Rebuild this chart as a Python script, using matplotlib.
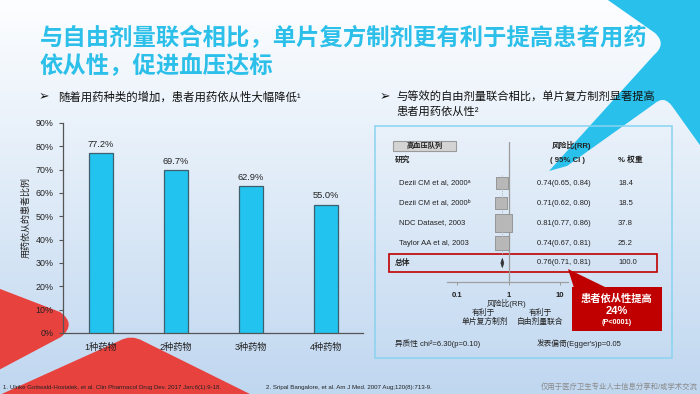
import numpy as np
import matplotlib
matplotlib.use("Agg")
import matplotlib.pyplot as plt
from matplotlib.path import Path
from matplotlib.patches import PathPatch, Rectangle, Polygon

plt.rcParams['font.family'] = ['Liberation Sans', 'Noto Sans CJK SC', 'DejaVu Sans']

# ---------------- data ----------------
title_lines = ["与自由剂量联合相比，单片复方制剂更有利于提高患者用药", "依从性，促进血压达标"]
bullet1 = "随着用药种类的增加，患者用药依从性大幅降低¹"
bullet2 = ["与等效的自由剂量联合相比，单片复方制剂显著提高", "患者用药依从性²"]

categories = ["1种药物", "2种药物", "3种药物", "4种药物"]
adherence = [77.2, 69.7, 62.9, 55.0]
y_ticks = [0, 10, 20, 30, 40, 50, 60, 70, 80, 90]
y_label = "用药依从的患者比例"

studies = ["Dezii CM et al, 2000ᵃ", "Dezii CM et al, 2000ᵇ", "NDC Dataset, 2003", "Taylor AA et al, 2003"]
rr = [0.74, 0.71, 0.81, 0.74]
rr_lo = [0.65, 0.62, 0.77, 0.67]
rr_hi = [0.84, 0.80, 0.86, 0.81]
weights = [18.4, 18.5, 37.8, 25.2]
total_label = "总体"
total_rr, total_lo, total_hi, total_w = 0.76, 0.71, 0.81, 100.0
forest_ticks = [0.1, 1, 10]
forest_ticklabels = ["0.1", "1", "10"]

footnote1 = "1. Ulrike Gottwald-Hostalek, et al. Clin Pharmacol Drug Dev. 2017 Jan;6(1):9-18."
footnote2 = "2. Sripal Bangalore, et al. Am J Med. 2007 Aug;120(8):713-9."
disclaimer = "仅用于医疗卫生专业人士信息分享和/或学术交流"

# ---------------- colours ----------------
CYAN = "#29c1ec"
TITLE = "#2bbfea"
RED = "#e8423f"
DARKRED = "#c00000"
BAR = "#22c3ee"
BAR_EDGE = "#3d5f6e"

fig = plt.figure(figsize=(7.0, 3.94), dpi=100)

# background axes in pixel coordinates
bg = fig.add_axes([0, 0, 1, 1])
bg.set_xlim(0, 700)
bg.set_ylim(394, 0)
bg.axis("off")

t = np.linspace(0, 1, 256)[:, None]
top = np.array([253, 254, 255]) / 255.0
bot = np.array([192, 215, 240]) / 255.0
grad = top[None, None, :] * (1 - t[:, :, None]) + bot[None, None, :] * t[:, :, None]
bg.imshow(grad, extent=[0, 700, 394, 0], aspect="auto", zorder=0)

M, L, C, Z = Path.MOVETO, Path.LINETO, Path.CURVE3, Path.CLOSEPOLY
# top-right cyan decoration
cyan_v = [(605, -2), (702, -2), (702, 148), (672, 106), (664, 95), (654, 104),
          (567, 166), (549, 171), (654, 55), (667, 44), (655, 33), (605, -2), (605, -2)]
cyan_c = [M, L, L, L, C, C, L, L, L, C, C, L, Z]
bg.add_patch(PathPatch(Path(cyan_v, cyan_c), facecolor=CYAN, edgecolor="none", zorder=1))

# bottom-left red decorations
r1_v = [(-5, 287), (60, 312), (77, 324), (61, 337), (-5, 372), (-5, 287)]
r1_c = [M, L, C, C, L, Z]
bg.add_patch(PathPatch(Path(r1_v, r1_c), facecolor=RED, edgecolor="none", zorder=1))
r2_v = [(-5, 397), (119, 341), (131, 334), (143, 341), (256, 397), (-5, 397)]
r2_c = [M, L, C, C, L, Z]
bg.add_patch(PathPatch(Path(r2_v, r2_c), facecolor=RED, edgecolor="none", zorder=1))

# title
bg.text(40, 39, title_lines[0], fontsize=16.8, fontweight="bold", color=TITLE, va="center", ha="left", zorder=5)
bg.text(40, 67, title_lines[1], fontsize=16.8, fontweight="bold", color=TITLE, va="center", ha="left", zorder=5)

# bullets
arrow_fam = ["DejaVu Sans"]
bg.text(39, 97, "➢", fontsize=9, family=arrow_fam, va="center", ha="left", color="#111", zorder=5)
bg.text(58, 97, bullet1, fontsize=8.2, va="center", ha="left", color="#111", zorder=5)
bg.text(380, 97, "➢", fontsize=9, family=arrow_fam, va="center", ha="left", color="#111", zorder=5)
bg.text(396, 97, bullet2[0], fontsize=8.1, va="center", ha="left", color="#111", zorder=5)
bg.text(396, 112, bullet2[1], fontsize=8.1, va="center", ha="left", color="#111", zorder=5)

# ---------------- bar chart ----------------
ax = fig.add_axes([63 / 700, (394 - 333) / 394, 300 / 700, 210 / 394])
ax.patch.set_alpha(0)
x = np.arange(len(categories))
bars = ax.bar(x, adherence, width=0.32, color=BAR, edgecolor=BAR_EDGE, linewidth=0.9, zorder=3)
for xi, v in zip(x, adherence):
    ax.annotate(f"{v:.1f}%", (xi, v), xytext=(0, 6.3), textcoords="offset points",
                ha="center", va="center", fontsize=6.7, color="#222")
ax.set_xlim(-0.5, 3.5)
ax.set_ylim(0, 90)
ax.set_yticks(y_ticks)
ax.set_yticklabels([f"{v}%" for v in y_ticks], fontsize=6.4, color="#222")
ax.set_xticks(x)
ax.set_xticklabels(categories, fontsize=6.6, color="#222")
ax.tick_params(axis="x", length=0, pad=7)
ax.tick_params(axis="y", length=3, width=0.8, color="#555", pad=4)
for s in ["top", "right"]:
    ax.spines[s].set_visible(False)
for s in ["left", "bottom"]:
    ax.spines[s].set_color("#555")
    ax.spines[s].set_linewidth(0.9)
bg.text(26, 217, y_label, rotation=90, fontsize=6.5, ha="center", va="center", color="#222", zorder=5)

# ---------------- forest plot ----------------
bg.add_patch(Rectangle((375, 126), 297, 232, facecolor="none", edgecolor="#88d3ef", linewidth=1.1, zorder=2))
bg.add_patch(Rectangle((393, 141), 63, 10, facecolor="#d4d4d4", edgecolor="#9a9a9a", linewidth=0.8, zorder=3))
bg.text(424.5, 146, "高血压队列", fontsize=5.2, fontweight="bold", ha="center", va="center", color="#222", zorder=5)
bg.text(395, 160, "研究", fontsize=5.6, fontweight="bold", ha="left", va="center", color="#222", zorder=5)
bg.text(571, 145, "风险比(RR)", fontsize=5.6, fontweight="bold", ha="center", va="center", color="#222", zorder=5)
bg.text(568, 160, "( 95% CI )", fontsize=5.6, fontweight="bold", ha="center", va="center", color="#222", zorder=5)
bg.text(618, 160, "% 权重", fontsize=5.6, fontweight="bold", ha="left", va="center", color="#222", zorder=5)

row_y0, row_dy = 183, 20
for i, (name, r, lo, hi, w) in enumerate(zip(studies, rr, rr_lo, rr_hi, weights)):
    yy = row_y0 + row_dy * i
    bg.text(399, yy, name, fontsize=5.5, ha="left", va="center", color="#222", zorder=5)
    bg.text(537, yy, f"{r:.2f}({lo:.2f}, {hi:.2f})", fontsize=5.5, ha="left", va="center", color="#222", zorder=5)
    bg.text(618, yy, f"{w:.1f}", fontsize=5.5, ha="left", va="center", color="#222", zorder=5)
ty = row_y0 + row_dy * len(studies)
bg.text(395, ty, total_label, fontsize=5.6, fontweight="bold", ha="left", va="center", color="#222", zorder=5)
bg.text(537, ty, f"{total_rr:.2f}({total_lo:.2f}, {total_hi:.2f})", fontsize=5.5, ha="left", va="center", color="#222", zorder=5)
bg.text(618, ty, f"{total_w:.1f}", fontsize=5.5, ha="left", va="center", color="#222", zorder=5)
bg.add_patch(Rectangle((389, 254), 268, 18, facecolor="none", edgecolor=DARKRED, linewidth=1.2, zorder=4))

fx = fig.add_axes([447 / 700, (394 - 282) / 394, 121 / 700, 140 / 394])
fx.patch.set_alpha(0)
fx.set_xscale("log")
fx.set_xlim(10 ** (-1 - 10 / 51.5), 10 ** (1 + 8 / 51.5))
fx.set_ylim(4.95, -2.05)
fx.axvline(1, color="#9a9a9a", linewidth=0.9, zorder=1)
fx.vlines(total_rr, -0.4, 3.6, colors="#b5b5b5", linestyles=(0, (1, 1)), linewidth=0.7, zorder=4)
rows = np.arange(len(studies))
fx.hlines(rows, rr_lo, rr_hi, colors="#666", linewidth=0.7, zorder=2)
sides = 2.77 * np.sqrt(np.array(weights))
fx.scatter(rr, rows, marker="s", s=(sides * 0.72) ** 2, facecolor="#b8b8b8", edgecolor="#8e8e8e",
           linewidths=0.6, zorder=3)
n = len(studies)
fx.add_patch(Polygon([(total_lo, n), (total_rr, n - 0.23), (total_hi, n), (total_rr, n + 0.23)],
                     closed=True, facecolor="#333", edgecolor="#333", linewidth=0.5, zorder=5))
fx.set_xticks(forest_ticks)
fx.set_xticklabels(forest_ticklabels, fontsize=5.6, fontweight="bold", color="#222")
fx.xaxis.set_minor_locator(matplotlib.ticker.NullLocator())
fx.tick_params(axis="x", length=2.2, width=0.7, color="#9a9a9a", pad=5)
fx.set_yticks([])
for s in ["top", "right", "left"]:
    fx.spines[s].set_visible(False)
fx.spines["bottom"].set_color("#a0a0a0")
fx.spines["bottom"].set_linewidth(0.9)

bg.text(507, 303, "风险比(RR)", fontsize=5.6, ha="center", va="center", color="#222", zorder=5)
bg.text(483, 313, "有利于", fontsize=5.6, ha="center", va="center", color="#222", zorder=5)
bg.text(485, 322, "单片复方制剂", fontsize=5.6, ha="center", va="center", color="#222", zorder=5)
bg.text(540, 313, "有利于", fontsize=5.6, ha="center", va="center", color="#222", zorder=5)
bg.text(540, 322, "自由剂量联合", fontsize=5.6, ha="center", va="center", color="#222", zorder=5)
bg.text(395, 344, "异质性 chi²=6.30(p=0.10)", fontsize=5.5, ha="left", va="center", color="#222", zorder=5)
bg.text(537, 344, "发表偏倚(Egger's)p=0.05", fontsize=5.5, ha="left", va="center", color="#222", zorder=5)

# callout
bg.add_patch(Polygon([(568, 269), (574, 288), (607, 288)], closed=True, facecolor=DARKRED, edgecolor="none", zorder=4))
bg.add_patch(Rectangle((572, 287), 90, 44, facecolor=DARKRED, edgecolor="none", zorder=4))
bg.text(617, 299, "患者依从性提高", fontsize=7.4, fontweight="bold", color="white", ha="center", va="center", zorder=6)
bg.text(617, 311, "24%", fontsize=8, fontweight="bold", color="white", ha="center", va="center", zorder=6)
bg.text(617, 322, "(P<0001)", fontsize=5.2, fontweight="bold", color="white", ha="center", va="center", zorder=6)

# footnotes
bg.text(3, 387, footnote1, fontsize=4.4, ha="left", va="center", color="#222", zorder=5)
bg.text(266, 387, footnote2, fontsize=4.4, ha="left", va="center", color="#222", zorder=5)
bg.text(698, 387, disclaimer, fontsize=5.3, ha="right", va="center", color="#8a8a8a", zorder=5)

fig.savefig("out.png", dpi=100)
